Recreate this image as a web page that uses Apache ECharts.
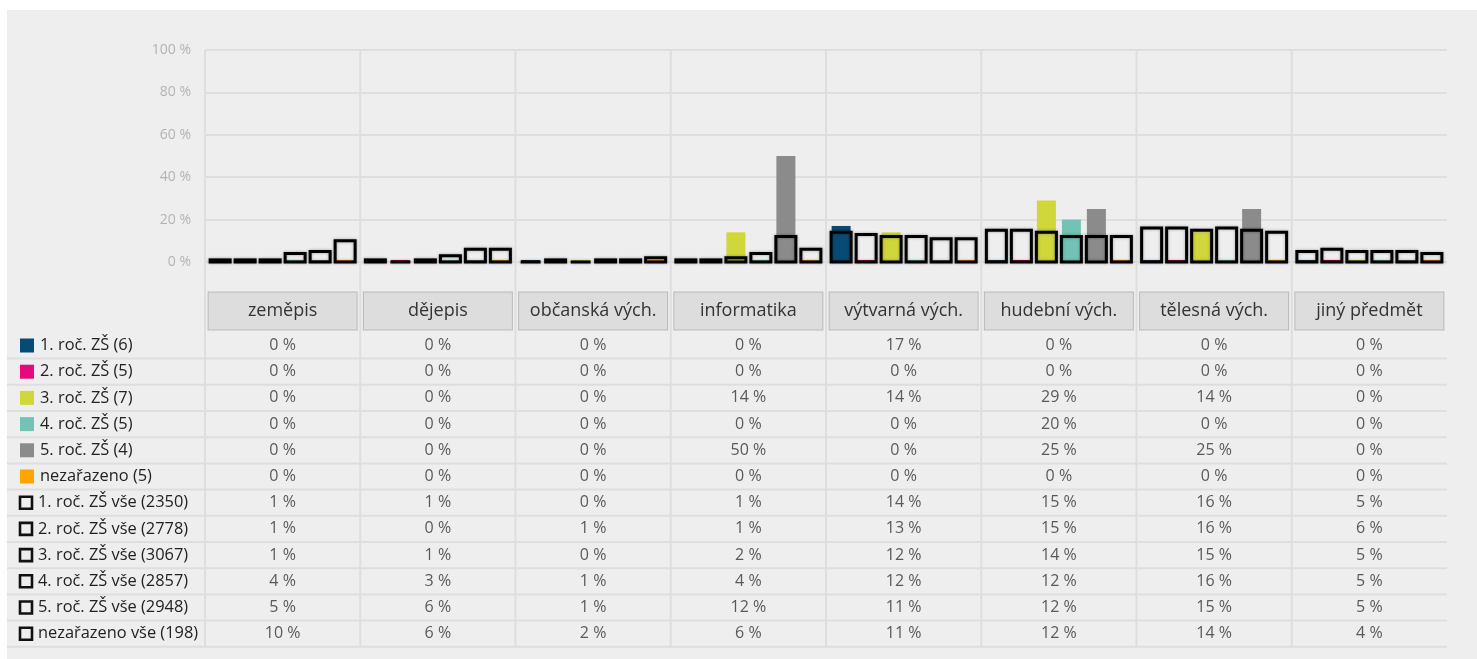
<!DOCTYPE html>
<html>
<head>
<meta charset="utf-8">
<script src="https://cdn.jsdelivr.net/npm/echarts@6/dist/echarts.min.js"></script>
<style>
  html, body { margin: 0; padding: 0; background: #ffffff; }
  #chart { width: 1477px; height: 659px; }
</style>
</head>
<body>
<div id="chart"></div>
<script>
// Subjects (columns)
const subjects = ['zeměpis', 'dějepis', 'občanská vých.', 'informatika', 'výtvarná vých.', 'hudební vých.', 'tělesná vých.', 'jiný předmět'];

// Class groups (filled bars)
const groupNames = ['1. roč. ZŠ (6)', '2. roč. ZŠ (5)', '3. roč. ZŠ (7)', '4. roč. ZŠ (5)', '5. roč. ZŠ (4)', 'nezařazeno (5)'];
const groupColors = ['#074b74', '#e5097f', '#cfd73b', '#72c3b5', '#8b8b8b', '#ffa400'];
const grade1 = [0, 0, 0, 0, 17, 0, 0, 0];
const grade2 = [0, 0, 0, 0, 0, 0, 0, 0];
const grade3 = [0, 0, 0, 14, 14, 29, 14, 0];
const grade4 = [0, 0, 0, 0, 0, 20, 0, 0];
const grade5 = [0, 0, 0, 50, 0, 25, 25, 0];
const unassigned = [0, 0, 0, 0, 0, 0, 0, 0];

// Whole population per grade (outlined bars)
const allNames = ['1. roč. ZŠ vše (2350)', '2. roč. ZŠ vše (2778)', '3. roč. ZŠ vše (3067)', '4. roč. ZŠ vše (2857)', '5. roč. ZŠ vše (2948)', 'nezařazeno vše (198)'];
const grade1All = [1, 1, 0, 1, 14, 15, 16, 5];
const grade2All = [1, 0, 1, 1, 13, 15, 16, 6];
const grade3All = [1, 1, 0, 2, 12, 14, 15, 5];
const grade4All = [4, 3, 1, 4, 12, 12, 16, 5];
const grade5All = [5, 6, 1, 12, 11, 12, 15, 5];
const unassignedAll = [10, 6, 2, 6, 11, 12, 14, 4];

// Value axis ticks
const yMin = 0, yMax = 100, yStep = 20;

const groupValues = [grade1, grade2, grade3, grade4, grade5, unassigned];
const allValues = [grade1All, grade2All, grade3All, grade4All, grade5All, unassignedAll];
const rowNames = groupNames.concat(allNames);
const rowValues = groupValues.concat(allValues);

// Layout
const PLOT_LEFT = 205, PLOT_WIDTH = 1242, PLOT_TOP = 50, PLOT_HEIGHT = 212;
const TABLE_TOP = 332.4, ROW_H = 26.2;
const BAND = PLOT_WIDTH / subjects.length;
const FONT = 'Open Sans';
const LINE_COLOR = '#dedede';
const SLOT_FRAC = 25 / BAND;     // distance between neighbouring bars, as part of a band
const OUTLINE_FRAC = 20 / BAND;  // outlined bar width, as part of a band

const chart = echarts.init(document.getElementById('chart'), null, { renderer: 'canvas' });

// Table cells: [column, row, value]
const cells = [];
rowValues.forEach((vals, r) => vals.forEach((v, c) => cells.push([c, r, v])));

// Legend-style row headers
const rich = {
  t: { fontSize: 16.4, color: '#222', fontFamily: FONT, padding: [0, 0, 0, 6], verticalAlign: 'middle' },
  o: { width: 12, height: 12, borderColor: '#111', borderWidth: 2.6, verticalAlign: 'middle' }
};
groupColors.forEach((c, i) => {
  rich['c' + i] = { width: 14, height: 14, backgroundColor: c, verticalAlign: 'middle' };
});

const series = [];
groupValues.forEach((vals, i) => {
  series.push({
    name: groupNames[i], type: 'bar', xAxisIndex: 0, yAxisIndex: 0,
    data: vals, barWidth: 19, barGap: '31.6%', barMinHeight: 2,
    itemStyle: { color: groupColors[i] }, z: 2, silent: true
  });
});

// Outlined bars: the stroke sits centred on the bar edge, so even 0 % shows a line
function outlineRenderer(slot) {
  return function (params, api) {
    const cat = api.value(0);
    const base = api.coord([cat, 0]);
    const top = api.coord([cat, api.value(1)]);
    const band = api.size([1, 0])[0];
    const w = band * OUTLINE_FRAC;
    const cx = base[0] + (slot - (allValues.length - 1) / 2) * band * SLOT_FRAC;
    return {
      type: 'rect',
      shape: { x: cx - w / 2, y: top[1], width: w, height: base[1] - top[1] },
      style: {
        fill: 'none', stroke: '#000', lineWidth: 3,
        shadowColor: 'rgba(0,0,0,0.35)', shadowBlur: 3
      }
    };
  };
}
allValues.forEach((vals, i) => {
  series.push({
    name: allNames[i], type: 'custom', xAxisIndex: 0, yAxisIndex: 0,
    data: vals.map((v, c) => [c, v]),
    encode: { x: 0, y: 1 },
    renderItem: outlineRenderer(i),
    z: 3, silent: true
  });
});

series.push({
  type: 'scatter', xAxisIndex: 1, yAxisIndex: 1, data: cells,
  symbolSize: 1, itemStyle: { color: 'rgba(0,0,0,0)' }, silent: true,
  label: {
    show: true, position: 'inside', formatter: p => p.value[2] + ' %',
    fontSize: 16, color: '#333', fontFamily: FONT
  }
});

// Grid separators
const graphics = [{
  type: 'rect', silent: true, z: -100,
  shape: { x: 7, y: 10, width: 1470, height: 649 },
  style: { fill: '#eeeeee' }
}];
for (let i = 0; i < subjects.length; i++) {
  const x = PLOT_LEFT + i * BAND;
  graphics.push({
    type: 'line', silent: true, z: -50,
    shape: { x1: x, y1: PLOT_TOP, x2: x, y2: TABLE_TOP + rowNames.length * ROW_H },
    style: { stroke: LINE_COLOR, lineWidth: 2 }
  });
}
for (let k = 1; k <= rowNames.length; k++) {
  const y = TABLE_TOP + k * ROW_H;
  graphics.push({
    type: 'line', silent: true, z: -50,
    shape: { x1: 7, y1: y, x2: PLOT_LEFT + PLOT_WIDTH, y2: y },
    style: { stroke: LINE_COLOR, lineWidth: 2 }
  });
}

chart.setOption({
  animation: false,
  backgroundColor: '#ffffff',
  textStyle: { fontFamily: FONT },
  graphic: { elements: graphics },
  grid: [
    { left: PLOT_LEFT, top: PLOT_TOP, width: PLOT_WIDTH, height: PLOT_HEIGHT },
    { left: PLOT_LEFT, top: TABLE_TOP, width: PLOT_WIDTH, height: rowNames.length * ROW_H }
  ],
  xAxis: [
    { gridIndex: 0, type: 'category', data: subjects, axisLine: { show: false }, axisTick: { show: false },
      axisLabel: { show: false }, splitLine: { show: false } },
    { gridIndex: 1, type: 'category', data: subjects, position: 'top',
      axisLine: { show: false }, axisTick: { show: false }, splitLine: { show: false },
      axisLabel: {
        interval: 0, margin: 3,
        formatter: v => '{h|' + v + '}',
        rich: {
          h: { width: 148, height: 37, lineHeight: 37, align: 'center', backgroundColor: '#dddddd',
               borderColor: '#b9b9b9', borderWidth: 1, fontSize: 18, color: '#333', fontFamily: FONT }
        }
      } }
  ],
  yAxis: [
    { gridIndex: 0, type: 'value', min: yMin, max: yMax, interval: yStep,
      axisLine: { show: false }, axisTick: { show: false },
      axisLabel: { formatter: '{value} %', color: '#b3b3b3', fontSize: 14, margin: 14, fontFamily: FONT },
      splitLine: { lineStyle: { color: LINE_COLOR, width: 2 } } },
    { gridIndex: 1, type: 'category', inverse: true, data: rowNames,
      axisLine: { show: false }, axisTick: { show: false }, splitLine: { show: false },
      axisLabel: {
        interval: 0, align: 'left', margin: PLOT_LEFT - 20,
        formatter: (v, idx) => (idx < groupNames.length ? '{c' + idx + '|}' : '{o|}') + '{t|' + v + '}',
        rich: rich
      } }
  ],
  series: series
});
</script>
</body>
</html>
